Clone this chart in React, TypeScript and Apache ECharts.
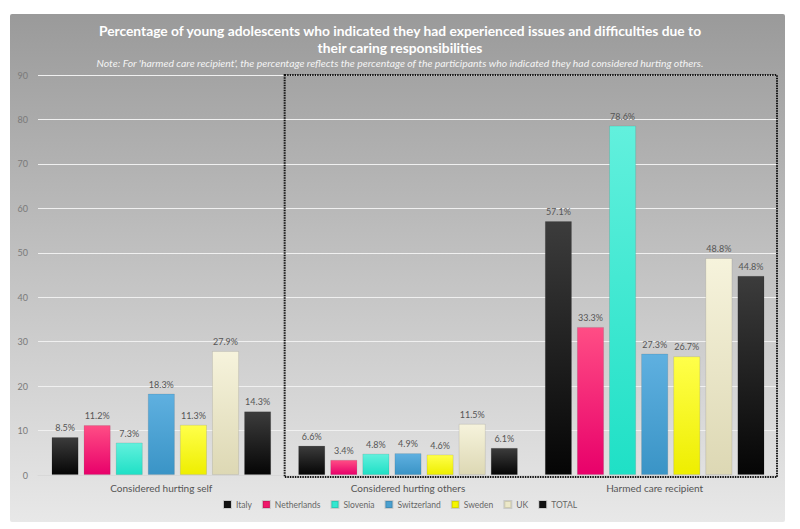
import React, { useEffect, useRef } from "react";
import * as echarts from "echarts";

const categories = ["Considered hurting self", "Considered hurting others", "Harmed care recipient"];
const seriesNames = ["Italy", "Netherlands", "Slovenia", "Switzerland", "Sweden", "UK", "TOTAL"];
const italy = [8.5, 6.6, 57.1];
const netherlands = [11.2, 3.4, 33.3];
const slovenia = [7.3, 4.8, 78.6];
const switzerland = [18.3, 4.9, 27.3];
const sweden = [11.3, 4.6, 26.7];
const uk = [27.9, 11.5, 48.8];
const total = [14.3, 6.1, 44.8];
const seriesValues = [italy, netherlands, slovenia, switzerland, sweden, uk, total];
const yTicks = { min: 0, max: 90, interval: 10 };

const colorPairs: [string, string, string][] = [
  ["#3c3c3c", "#050505", "#111111"],
  ["#ff4d85", "#e8006a", "#f0186a"],
  ["#62f0dd", "#1fe0c6", "#30e8d0"],
  ["#5fb0e0", "#3a94c6", "#4aa0d0"],
  ["#ffff4a", "#eeee00", "#f5f500"],
  ["#f6f3dc", "#ddd8b4", "#ece8c8"],
  ["#3c3c3c", "#050505", "#111111"],
];

const FONT = "'Lato', sans-serif";

export default function App() {
  const ref = useRef<HTMLDivElement>(null);
  useEffect(() => {
    document.body.style.margin = "0";
    const chart = echarts.init(ref.current!, undefined, { renderer: "svg" });
    const option: any = {
      animation: false,
      backgroundColor: "#ffffff",
      textStyle: { fontFamily: FONT },
      title: {
        text: "Percentage of young adolescents who indicated they had experienced issues and difficulties due to\ntheir caring responsibilities",
        subtext: "Note: For 'harmed care recipient', the percentage reflects the percentage of the participants who indicated they had considered hurting others.",
        left: "center",
        top: 17,
        itemGap: 2,
        textStyle: { color: "#ffffff", fontSize: 13.8, fontWeight: "bold", lineHeight: 17, fontFamily: FONT },
        subtextStyle: { color: "#f4f4f4", fontSize: 10.4, fontStyle: "italic", fontFamily: FONT },
      },
      grid: { left: 38, right: 22, top: 75, bottom: 54, containLabel: false },
      legend: {
        bottom: 15,
        left: "center",
        itemWidth: 7,
        itemHeight: 7,
        itemGap: 10,
        icon: "rect",
        textStyle: { color: "#666666", fontSize: 8.5, fontFamily: FONT },
        data: seriesNames.map((n, i) => ({ name: n, itemStyle: { color: colorPairs[i][2] } })),
      },
      xAxis: {
        type: "category",
        data: categories,
        axisLine: { show: true, lineStyle: { color: "#d8d8d8" } },
        axisTick: { show: false },
        axisLabel: { color: "#555555", fontSize: 10, margin: 8, fontFamily: FONT },
      },
      yAxis: {
        type: "value",
        min: yTicks.min,
        max: yTicks.max,
        interval: yTicks.interval,
        axisLine: { show: false },
        axisTick: { show: false },
        axisLabel: { color: "#7a7a7a", fontSize: 9, margin: 10, fontFamily: FONT },
        splitLine: { lineStyle: { color: "#f0f0f0", width: 1.2 } },
      },
      series: seriesNames.map((name, i) => ({
        name,
        type: "bar",
        data: seriesValues[i],
        barCategoryGap: "11%",
        barGap: "19%",
        itemStyle: {
          color: new echarts.graphic.LinearGradient(0, 0, 0, 1, [
            { offset: 0, color: colorPairs[i][0] },
            { offset: 1, color: colorPairs[i][1] },
          ]),
          borderColor: "rgba(0,0,0,0.12)",
          borderWidth: 0.8,
        },
        label: {
          show: true,
          position: "top",
          distance: 5,
          color: "#555555",
          fontSize: 9,
          fontFamily: FONT,
          formatter: (p: any) => p.value.toFixed(1) + "%",
        },
      })),
      graphic: [
        {
          type: "rect",
          z: -10,
          silent: true,
          shape: { x: 10, y: 14, width: 775, height: 508, r: 2 },
          style: {
            fill: new echarts.graphic.LinearGradient(0, 0, 0, 1, [
              { offset: 0, color: "#9a9a9a" },
              { offset: 0.5, color: "#c2c2c2" },
              { offset: 1, color: "#e8e8e8" },
            ]),
          },
        },
      ],
    };
    chart.setOption(option);
    const left = chart.convertToPixel({ xAxisIndex: 0 }, categories[1]);
    const right = chart.convertToPixel({ xAxisIndex: 0 }, categories[2]);
    const half = (right - left) / 2;
    const top = chart.convertToPixel({ yAxisIndex: 0 }, yTicks.max);
    const bottom = chart.convertToPixel({ yAxisIndex: 0 }, yTicks.min);
    chart.setOption({
      graphic: [
        option.graphic[0],
        {
          type: "rect",
          z: 100,
          silent: true,
          shape: { x: left - half, y: top, width: right + half - (left - half) - 1, height: bottom - top + 2 },
          style: { fill: "none", stroke: "#111111", lineWidth: 2, lineDash: [1.5, 1] },
        },
      ],
    });
    return () => chart.dispose();
  }, []);
  return <div ref={ref} style={{ width: 800, height: 529 }} />;
}
